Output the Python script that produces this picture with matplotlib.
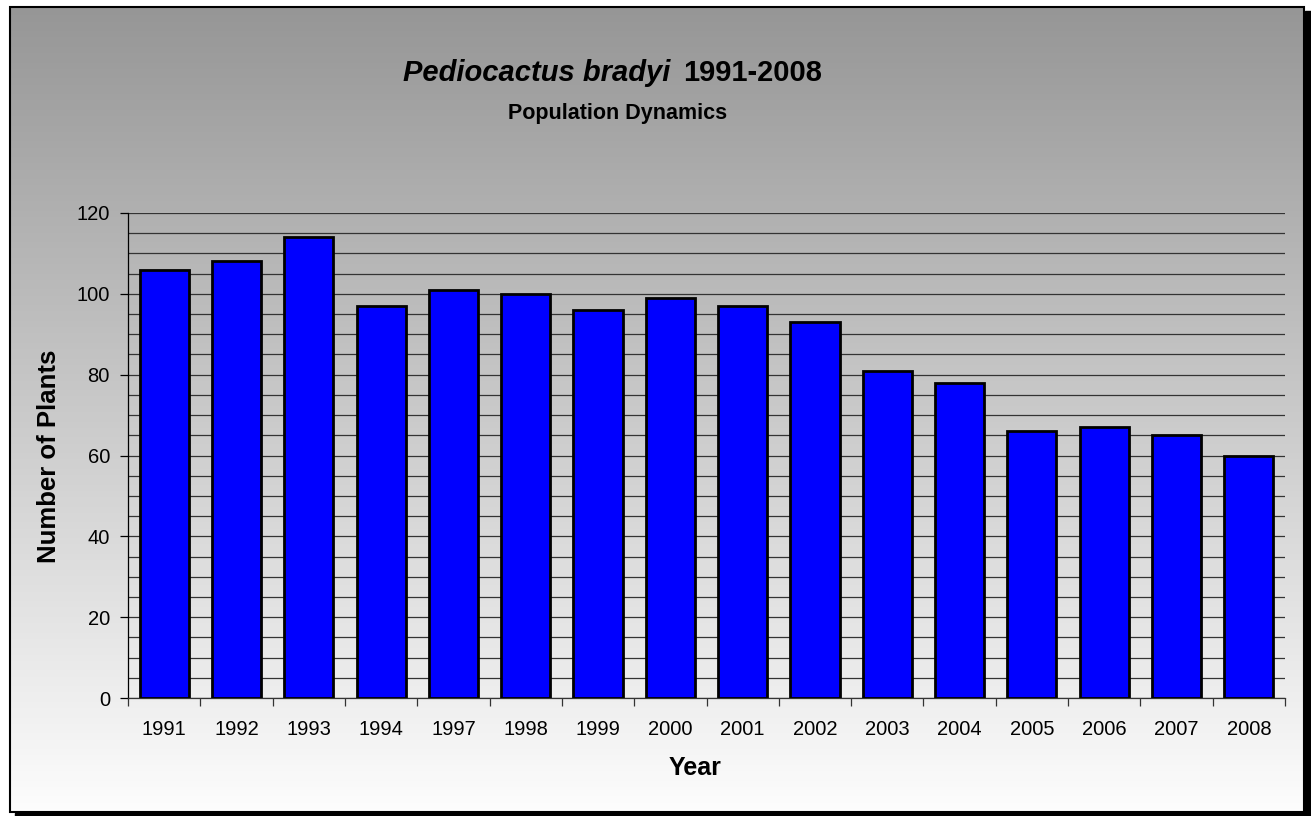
import matplotlib.pyplot as plt
from matplotlib.patches import Rectangle
from matplotlib.ticker import MultipleLocator, FixedLocator, NullFormatter
import numpy as np

plt.rcParams['font.family'] = ['Liberation Sans', 'DejaVu Sans']

years = ['1991', '1992', '1993', '1994', '1997', '1998', '1999', '2000',
         '2001', '2002', '2003', '2004', '2005', '2006', '2007', '2008']
plants = [106, 108, 114, 97, 101, 100, 96, 99, 97, 93, 81, 78, 66, 67, 65, 60]

W, H = 1311, 816
fig = plt.figure(figsize=(W / 100, H / 100), dpi=100)
fig.patch.set_facecolor('white')

# gradient background inside the chart frame
bg = fig.add_axes([9.5 / W, 1 - 812 / H, (1304 - 9.5) / W, (812 - 6.5) / H], zorder=0)
grad = np.linspace(150, 253, 256).reshape(-1, 1) / 255.0
bg.imshow(np.dstack([grad, grad, grad]), aspect='auto', extent=[0, 1, 0, 1])
bg.set_axis_off()

# shadow and frame
fig.patches.append(Rectangle((1305 / W, 1 - 818 / H), 6 / W, (818 - 11) / H,
                             transform=fig.transFigure, color='black', zorder=-1))
fig.patches.append(Rectangle((15 / W, 0), (1311 - 15) / W, 3.5 / H,
                             transform=fig.transFigure, color='black', zorder=-1))
fig.patches.append(Rectangle((9.5 / W, 1 - 812 / H), (1304 - 9.5) / W, (812 - 6.5) / H,
                             transform=fig.transFigure, fill=False, edgecolor='black',
                             linewidth=1.5, zorder=5))

ax = fig.add_axes([128 / W, 1 - 698 / H, (1285 - 128) / W, (698 - 213) / H], zorder=2)
ax.patch.set_alpha(0)
x = np.arange(len(years))
ax.bar(x, plants, width=0.68, color='#0000FF', edgecolor='black', linewidth=2.0, zorder=3)

ax.set_xlim(-0.5, len(years) - 0.5)
ax.set_ylim(0, 120)
ax.yaxis.set_major_locator(MultipleLocator(20))
ax.yaxis.set_minor_locator(MultipleLocator(5))
ax.grid(axis='y', which='both', color='#333333', linewidth=0.9, zorder=1)
ax.tick_params(axis='y', which='major', length=6, width=0.9, pad=7, labelsize=14.5)
ax.tick_params(axis='y', which='minor', length=0)

ax.xaxis.set_major_locator(FixedLocator(np.arange(len(years) + 1) - 0.5))
ax.xaxis.set_major_formatter(NullFormatter())
ax.xaxis.set_minor_locator(FixedLocator(x))
ax.set_xticks(x, years, minor=True)
ax.tick_params(axis='x', which='major', length=6, width=0.9, color='#333333')
ax.tick_params(axis='x', which='minor', length=0, pad=16, labelsize=14.5)

for s in ['top', 'right']:
    ax.spines[s].set_visible(False)
ax.spines['left'].set_linewidth(0.9)
ax.spines['bottom'].set_color('#333333')
ax.spines['bottom'].set_linewidth(0.9)
ax.set_axisbelow(True)

# titles and axis labels
fig.text(670 / W, 1 - 73 / H, 'Pediocactus bradyi', ha='right', va='center',
         fontsize=21, fontweight='bold', fontstyle='italic')
fig.text(683 / W, 1 - 73 / H, '1991-2008', ha='left', va='center',
         fontsize=21, fontweight='bold')
fig.text(618 / W, 1 - 113 / H, 'Population Dynamics', ha='center', va='center',
         fontsize=15.5, fontweight='bold')
fig.text(49 / W, 1 - 456 / H, 'Number of Plants', ha='center', va='center',
         rotation=90, fontsize=18.5, fontweight='bold')
fig.text(695 / W, 1 - 768 / H, 'Year', ha='center', va='center',
         fontsize=18, fontweight='bold')

fig.savefig('out.png', dpi=100)
